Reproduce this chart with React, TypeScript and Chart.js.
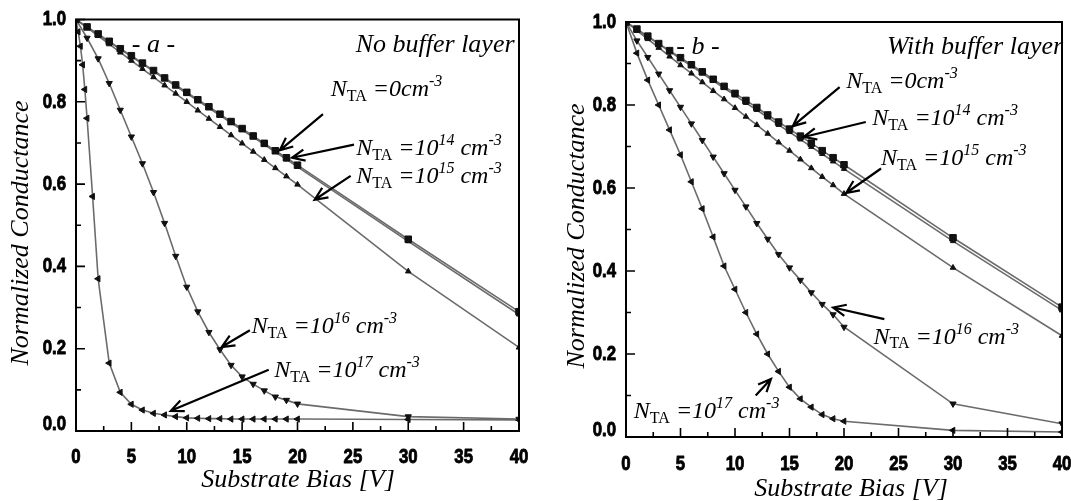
import React, { useEffect, useRef } from 'react';
import { Chart, registerables } from 'chart.js';

Chart.register(...registerables);

// Substrate bias sample points (V)
const BIAS = [0, 1, 2, 3, 4, 5, 6, 7, 8, 9, 10, 11, 12, 13, 14, 15, 16, 17, 18, 19, 20, 30, 40];
const BIAS_FINE = [0, 0.2, 0.4, 0.6, 0.8, 1, 1.5, 2, 3, 4, 5, 6, 7, 8, 9, 10, 11, 12, 13, 14, 15, 16, 17, 18, 19, 20, 30, 40];

// Panel (a): no buffer layer, normalized conductance
const A_NTA_0 = [1.0, 0.982, 0.965, 0.947, 0.929, 0.912, 0.894, 0.876, 0.858, 0.841, 0.823, 0.805, 0.788, 0.77, 0.752, 0.735, 0.717, 0.699, 0.681, 0.664, 0.646, 0.466, 0.29];
const A_NTA_14 = [1.0, 0.981, 0.963, 0.945, 0.928, 0.91, 0.892, 0.874, 0.856, 0.838, 0.82, 0.803, 0.785, 0.767, 0.749, 0.731, 0.714, 0.696, 0.678, 0.66, 0.642, 0.461, 0.283];
const A_NTA_15 = [1.0, 0.98, 0.96, 0.94, 0.92, 0.9, 0.88, 0.86, 0.84, 0.82, 0.8, 0.779, 0.759, 0.739, 0.719, 0.699, 0.679, 0.659, 0.639, 0.619, 0.599, 0.388, 0.203];
const A_NTA_16 = [1.0, 0.955, 0.905, 0.845, 0.78, 0.715, 0.65, 0.58, 0.505, 0.425, 0.35, 0.29, 0.24, 0.198, 0.16, 0.132, 0.114, 0.098, 0.083, 0.075, 0.066, 0.035, 0.029];
const A_NTA_17 = [
  1.0, 0.97, 0.935, 0.89, 0.83, 0.76, 0.57, 0.37,
  0.165, 0.094, 0.065, 0.051, 0.043, 0.039, 0.035, 0.032, 0.031, 0.03, 0.03, 0.029, 0.029, 0.029, 0.029, 0.029, 0.029, 0.029,
  0.028, 0.027,
];

// Panel (b): with buffer layer, normalized conductance
const B_NTA_0 = [1.0, 0.983, 0.966, 0.948, 0.931, 0.914, 0.897, 0.88, 0.862, 0.845, 0.828, 0.811, 0.794, 0.776, 0.759, 0.742, 0.725, 0.708, 0.69, 0.673, 0.656, 0.48, 0.313];
const B_NTA_14 = [1.0, 0.982, 0.964, 0.947, 0.929, 0.911, 0.894, 0.876, 0.858, 0.841, 0.823, 0.805, 0.788, 0.77, 0.752, 0.735, 0.717, 0.699, 0.682, 0.664, 0.646, 0.472, 0.305];
const B_NTA_15 = [1.0, 0.979, 0.959, 0.938, 0.917, 0.896, 0.876, 0.855, 0.834, 0.814, 0.793, 0.772, 0.752, 0.731, 0.71, 0.69, 0.669, 0.648, 0.627, 0.607, 0.586, 0.408, 0.244];
const B_NTA_16 = [1.0, 0.955, 0.915, 0.875, 0.835, 0.795, 0.755, 0.715, 0.675, 0.635, 0.595, 0.555, 0.515, 0.477, 0.44, 0.408, 0.378, 0.348, 0.32, 0.295, 0.265, 0.08, 0.032];
const B_NTA_17 = [1.0, 0.925, 0.86, 0.8, 0.74, 0.68, 0.615, 0.55, 0.482, 0.412, 0.356, 0.3, 0.248, 0.2, 0.158, 0.12, 0.092, 0.072, 0.054, 0.044, 0.038, 0.016, 0.012];

// Trap densities (exponent of cm^-3; empty = zero)
const NTA_EXPONENTS = ['', '14', '15', '16', '17'];

// Axis ticks
const X_MAJOR = [0, 5, 10, 15, 20, 25, 30, 35, 40];
const X_MINOR = [2.5, 7.5, 12.5, 17.5, 22.5, 27.5, 32.5, 37.5];
const Y_MAJOR = [0, 0.2, 0.4, 0.6, 0.8, 1.0];
const Y_MINOR = [0.1, 0.3, 0.5, 0.7, 0.9];

const SERIF = '"Liberation Serif", "Times New Roman", serif';
const TICK_FONT = 'bold 21px "Liberation Sans", Arial, sans-serif';

type Part = [string, 'n' | 'sub' | 'sup'];

function ntaParts(exp: string): Part[] {
  if (!exp) return [['N', 'n'], ['TA', 'sub'], [' =0cm', 'n'], ['-3', 'sup']];
  return [['N', 'n'], ['TA', 'sub'], [' =10', 'n'], [exp, 'sup'], [' cm', 'n'], ['-3', 'sup']];
}

type Callout = { exp: string; label: [number, number]; tail: [number, number]; tip: [number, number] };

type PanelSpec = {
  tag: string;
  caption: string;
  tagAt: [number, number];
  captionAt: [number, number];
  canvasLeft: number;
  canvasWidth: number;
  plotTop: number;
  plotLeft: number;
  plotRight: number;
  plotBottom: number;
  xLabelOffset: number;
  yLabelGap: number;
  yTitleAt: [number, number];
  xTitleAt: [number, number];
  series: { xs: number[]; ys: number[] }[];
  callouts: Callout[];
};

const MARKERS = [
  { style: 'rect', rotation: 0, radius: 4.6 },
  { style: 'triangle', rotation: 0, radius: 3 },
  { style: 'triangle', rotation: 0, radius: 3.2 },
  { style: 'triangle', rotation: 180, radius: 3.6 },
  { style: 'triangle', rotation: 270, radius: 3.6 },
];

const PANEL_A: PanelSpec = {
  tag: '- a -',
  caption: 'No buffer layer',
  tagAt: [7.0, 0.938],
  captionAt: [39.6, 0.938],
  canvasLeft: 0,
  canvasWidth: 535,
  plotTop: 19.5,
  plotLeft: 76,
  plotRight: 519,
  plotBottom: 431,
  xLabelOffset: 26,
  yLabelGap: 10,
  yTitleAt: [21, 233],
  xTitleAt: [298, 480],
  series: [
    { xs: BIAS, ys: A_NTA_0 },
    { xs: BIAS, ys: A_NTA_14 },
    { xs: BIAS, ys: A_NTA_15 },
    { xs: BIAS, ys: A_NTA_16 },
    { xs: BIAS_FINE, ys: A_NTA_17 },
  ],
  callouts: [
    { exp: NTA_EXPONENTS[0], label: [23.0, 0.834], tail: [22.3, 0.77], tip: [18.4, 0.682] },
    { exp: NTA_EXPONENTS[1], label: [25.3, 0.69], tail: [25.1, 0.696], tip: [19.5, 0.664] },
    { exp: NTA_EXPONENTS[2], label: [25.3, 0.622], tail: [24.8, 0.62], tip: [21.55, 0.562] },
    { exp: NTA_EXPONENTS[3], label: [15.85, 0.257], tail: [15.7, 0.245], tip: [13.15, 0.204] },
    { exp: NTA_EXPONENTS[4], label: [17.9, 0.151], tail: [17.4, 0.149], tip: [8.56, 0.049] },
  ],
};

const PANEL_B: PanelSpec = {
  tag: '- b -',
  caption: 'With buffer layer',
  tagAt: [6.6, 0.94],
  captionAt: [40.1, 0.94],
  canvasLeft: 535,
  canvasWidth: 536,
  plotTop: 22,
  plotLeft: 91,
  plotRight: 527,
  plotBottom: 437,
  xLabelOffset: 27,
  yLabelGap: 10,
  yTitleAt: [42, 236],
  xTitleAt: [316, 489],
  series: [
    { xs: BIAS, ys: B_NTA_0 },
    { xs: BIAS, ys: B_NTA_14 },
    { xs: BIAS, ys: B_NTA_15 },
    { xs: BIAS, ys: B_NTA_16 },
    { xs: BIAS, ys: B_NTA_17 },
  ],
  callouts: [
    { exp: NTA_EXPONENTS[0], label: [20.2, 0.86], tail: [19.6, 0.843], tip: [15.3, 0.749] },
    { exp: NTA_EXPONENTS[1], label: [22.6, 0.771], tail: [22.0, 0.759], tip: [16.3, 0.723] },
    { exp: NTA_EXPONENTS[2], label: [23.4, 0.675], tail: [23.4, 0.647], tip: [20.2, 0.588] },
    { exp: NTA_EXPONENTS[3], label: [22.7, 0.244], tail: [23.7, 0.284], tip: [19.0, 0.312] },
    { exp: NTA_EXPONENTS[4], label: [0.72, 0.064], tail: [11.9, 0.1], tip: [13.3, 0.14] },
  ],
};

function drawRich(ctx: CanvasRenderingContext2D, x: number, yMid: number, parts: Part[], size: number) {
  const base = yMid + size * 0.33;
  let cx = x;
  ctx.textBaseline = 'alphabetic';
  ctx.textAlign = 'left';
  for (const [t, k] of parts) {
    const small = Math.round(size * 0.66);
    if (k === 'n') ctx.font = `italic ${size}px ${SERIF}`;
    else if (k === 'sub') ctx.font = `${small}px ${SERIF}`;
    else ctx.font = `italic ${small}px ${SERIF}`;
    const dy = k === 'sub' ? size * 0.2 : k === 'sup' ? -size * 0.42 : 0;
    ctx.fillText(t, cx, base + dy);
    cx += ctx.measureText(t).width;
  }
}

function drawArrow(ctx: CanvasRenderingContext2D, x0: number, y0: number, x1: number, y1: number) {
  const ang = Math.atan2(y1 - y0, x1 - x0);
  const head = 14;
  ctx.beginPath();
  ctx.moveTo(x0, y0);
  ctx.lineTo(x1, y1);
  ctx.moveTo(x1 - head * Math.cos(ang - 0.42), y1 - head * Math.sin(ang - 0.42));
  ctx.lineTo(x1, y1);
  ctx.lineTo(x1 - head * Math.cos(ang + 0.42), y1 - head * Math.sin(ang + 0.42));
  ctx.stroke();
}

// Condensed heavy tick label, drawn with a horizontal squeeze
function drawTickLabel(ctx: CanvasRenderingContext2D, text: string, x: number, y: number, align: CanvasTextAlign) {
  ctx.save();
  ctx.translate(x, y);
  ctx.scale(0.8, 1);
  ctx.font = TICK_FONT;
  ctx.textAlign = align;
  ctx.textBaseline = 'middle';
  ctx.lineWidth = 0.9;
  ctx.lineJoin = 'round';
  ctx.strokeStyle = '#000';
  ctx.fillText(text, 0, 0);
  ctx.strokeText(text, 0, 0);
  ctx.restore();
}

function makeDecor(spec: PanelSpec) {
  return {
    id: 'panelDecor',
    afterDraw(chart: any) {
      const { ctx, chartArea: a } = chart;
      const xs = chart.scales.x;
      const ys = chart.scales.y;
      ctx.save();
      ctx.strokeStyle = '#000';
      ctx.fillStyle = '#000';

      // frame
      ctx.lineWidth = 2;
      ctx.strokeRect(a.left, a.top, a.right - a.left, a.bottom - a.top);

      // inward tick marks on left and bottom axes
      ctx.lineWidth = 1.6;
      ctx.beginPath();
      for (const v of Y_MAJOR) {
        const p = ys.getPixelForValue(v);
        ctx.moveTo(a.left, p);
        ctx.lineTo(a.left + 9, p);
      }
      for (const v of Y_MINOR) {
        const p = ys.getPixelForValue(v);
        ctx.moveTo(a.left, p);
        ctx.lineTo(a.left + 5, p);
      }
      for (const v of X_MAJOR) {
        const p = xs.getPixelForValue(v);
        ctx.moveTo(p, a.bottom);
        ctx.lineTo(p, a.bottom - 9);
      }
      for (const v of X_MINOR) {
        const p = xs.getPixelForValue(v);
        ctx.moveTo(p, a.bottom);
        ctx.lineTo(p, a.bottom - 5);
      }
      ctx.stroke();

      // tick labels
      for (const v of Y_MAJOR) {
        const p = ys.getPixelForValue(v) - (v === 0 ? 7 : 0);
        drawTickLabel(ctx, v.toFixed(1), a.left - spec.yLabelGap, p, 'right');
      }
      for (const v of X_MAJOR) {
        drawTickLabel(ctx, String(v), xs.getPixelForValue(v), a.bottom + spec.xLabelOffset, 'center');
      }

      // panel tag and caption
      ctx.font = `italic 26px ${SERIF}`;
      ctx.textBaseline = 'middle';
      ctx.textAlign = 'center';
      ctx.fillText(spec.tag, xs.getPixelForValue(spec.tagAt[0]), ys.getPixelForValue(spec.tagAt[1]));
      ctx.textAlign = 'right';
      ctx.fillText(spec.caption, xs.getPixelForValue(spec.captionAt[0]), ys.getPixelForValue(spec.captionAt[1]));

      // trap density callouts
      ctx.lineWidth = 2.2;
      for (const c of spec.callouts) {
        drawArrow(
          ctx,
          xs.getPixelForValue(c.tail[0]), ys.getPixelForValue(c.tail[1]),
          xs.getPixelForValue(c.tip[0]), ys.getPixelForValue(c.tip[1]),
        );
        drawRich(ctx, xs.getPixelForValue(c.label[0]), ys.getPixelForValue(c.label[1]), ntaParts(c.exp), 24);
      }

      // axis titles
      ctx.font = `italic 26px ${SERIF}`;
      ctx.textAlign = 'center';
      ctx.textBaseline = 'middle';
      ctx.fillText('Substrate Bias [V]', spec.xTitleAt[0], spec.xTitleAt[1]);
      ctx.translate(spec.yTitleAt[0], spec.yTitleAt[1]);
      ctx.rotate(-Math.PI / 2);
      ctx.fillText('Normalized Conductance', 0, 0);
      ctx.restore();
    },
  };
}

function Panel({ spec }: { spec: PanelSpec }) {
  const ref = useRef<HTMLCanvasElement>(null);
  useEffect(() => {
    const chart = new Chart(ref.current!, {
      type: 'line',
      data: {
        datasets: spec.series.map((s, i) => ({
          label: `NTA ${NTA_EXPONENTS[i] || '0'}`,
          data: s.xs.map((x, j) => ({ x, y: s.ys[j] })),
          borderColor: '#6b6b6b',
          borderWidth: 1.6,
          pointStyle: MARKERS[i].style as any,
          rotation: MARKERS[i].rotation,
          pointRadius: MARKERS[i].radius,
          pointBackgroundColor: '#111',
          pointBorderColor: '#111',
          pointBorderWidth: 1,
          tension: 0,
          fill: false,
        })),
      },
      options: {
        animation: false,
        responsive: false,
        maintainAspectRatio: false,
        devicePixelRatio: 1,
        layout: {
          autoPadding: false,
          padding: {
            top: spec.plotTop,
            right: spec.canvasWidth - spec.plotRight,
            left: 0,
            bottom: 0,
          },
        } as any,
        plugins: { legend: { display: false }, tooltip: { enabled: false } },
        scales: {
          x: {
            type: 'linear',
            min: 0,
            max: 40,
            grid: { display: false, drawTicks: false },
            border: { display: false },
            ticks: { stepSize: 5, display: false },
            afterFit: (s: any) => { s.height = 501 - spec.plotBottom; },
          },
          y: {
            type: 'linear',
            min: 0,
            max: 1,
            grid: { display: false, drawTicks: false },
            border: { display: false },
            ticks: { stepSize: 0.2, display: false },
            afterFit: (s: any) => { s.width = spec.plotLeft; },
          },
        },
      },
      plugins: [makeDecor(spec)],
    });
    return () => chart.destroy();
  }, [spec]);
  return (
    <canvas
      ref={ref}
      width={spec.canvasWidth}
      height={501}
      style={{ position: 'absolute', left: spec.canvasLeft, top: 0, width: spec.canvasWidth, height: 501 }}
    />
  );
}

export default function App() {
  return (
    <div style={{ position: 'absolute', left: 0, top: 0, width: 1071, height: 501, background: '#fff', overflow: 'hidden' }}>
      <Panel spec={PANEL_A} />
      <Panel spec={PANEL_B} />
    </div>
  );
}
